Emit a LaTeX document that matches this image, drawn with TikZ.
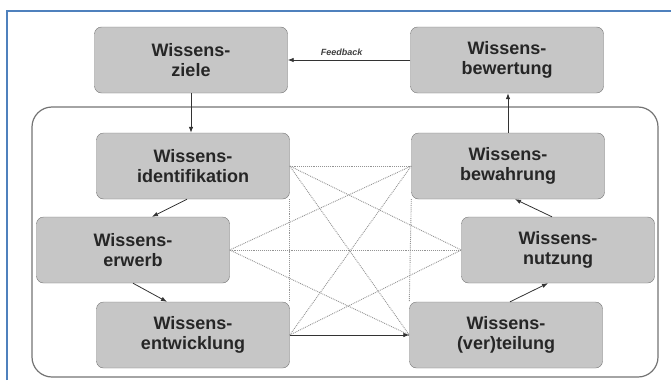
\documentclass[tikz,border=0pt]{standalone}
\usepackage{fontspec}
\setmainfont{Liberation Sans}
\usepackage{tikz}
\usetikzlibrary{arrows.meta, positioning}
\definecolor{frameblue}{RGB}{79, 129, 189}
\definecolor{boxgray}{RGB}{198, 198, 198}
\definecolor{edgegray}{RGB}{115, 115, 115}

\begin{document}
\begin{tikzpicture}[x=1pt, y=-1pt,
    wbox/.style={draw=edgegray, fill=boxgray, rounded corners=7pt, minimum width=193pt, minimum height=66pt,
        inner sep=0pt, align=center, text=black!85, font=\fontsize{18}{20}\selectfont\bfseries},
    flow/.style={-{Latex[length=6pt, width=4.5pt]}, black!80, line width=0.8pt},
    web/.style={gray!85, densely dotted, line width=0.9pt}]
            \useasboundingbox (0,0) rectangle (671,380);
            \draw[frameblue, line width=1.5pt] (7,380) -- (7,11) -- (671,11);
            \draw[edgegray, line width=1.2pt, rounded corners=20pt] (32,107) rectangle (658,377);

            \node[wbox] (ziele) at (191,60) {Wissens-\\ziele};
            \node[wbox] (bewertung) at (507,60) {Wissens-\\bewertung};
            \node[wbox] (ident) at (193,166) {Wissens-\\identifikation};
            \node[wbox] (bewahrung) at (508,166) {Wissens-\\bewahrung};
            \node[wbox] (erwerb) at (133,250) {Wissens-\\erwerb};
            \node[wbox] (nutzung) at (558,250) {Wissens-\\nutzung};
            \node[wbox] (entw) at (193,335) {Wissens-\\entwicklung};
            \node[wbox] (teilung) at (506,335) {Wissens-\\(ver)teilung};

            \foreach \l in {ident, erwerb, entw} {
                \foreach \r in {bewahrung, nutzung, teilung} {
                    \draw[web] (\l.east) -- (\r.west);
                }
            }
            \draw[web] (ident.south east) -- (entw.north east);
            \draw[web] (bewahrung.south west) -- (teilung.north west);

            \draw[flow] (bewertung.west) -- node[pos=0.56, above=1pt, font=\fontsize{9}{10}\selectfont\bfseries\itshape, text=black!75] {Feedback} (ziele.east);
            \draw[flow] (ziele.south) -- (ziele.south |- ident.north);
            \draw[flow] (bewahrung.north) -- (bewahrung.north |- bewertung.south);
            \draw[flow] ([xshift=-6pt]ident.south) -- ([xshift=19pt]erwerb.north);
            \draw[flow] (erwerb.south) -- ([xshift=-26pt]entw.north);
            \draw[flow] (entw.east) -- (teilung.west);
            \draw[flow] ([xshift=4pt]teilung.north) -- ([xshift=-10pt]nutzung.south);
            \draw[flow] ([xshift=-6pt]nutzung.north) -- ([xshift=7pt]bewahrung.south);
        \end{tikzpicture}
\end{document}
